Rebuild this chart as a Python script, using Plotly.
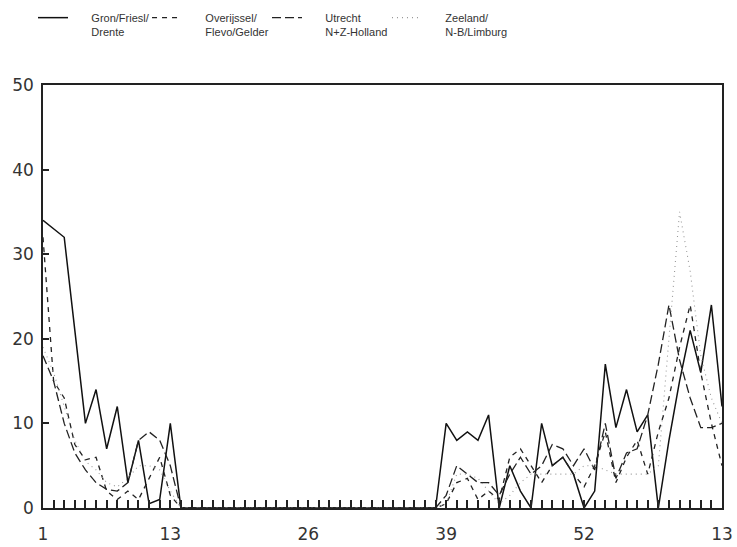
import plotly.graph_objects as go

# x positions: consecutive weeks, week 1 of year 1 ... week 13 of next year
weeks = list(range(1, 66))
tick_pos = [1, 13, 26, 39, 52, 65]
tick_text = ["1", "13", "26", "39", "52", "13"]
y_ticks = [0, 10, 20, 30, 40, 50]

gron = [34, 33, 32, 21, 10, 14, 7, 12, 3, 8, 0.5, 1, 10,
        0, 0, 0, 0, 0, 0, 0, 0, 0, 0, 0, 0, 0, 0, 0, 0, 0, 0, 0, 0, 0, 0, 0, 0, 0,
        10, 8, 9, 8, 11, 0, 5, 2, 0, 10, 5, 6, 4, 0, 2, 17, 9.5, 14, 9, 11, 0,
        8, 15, 21, 16, 24, 12]
overijssel = [32, 15, 13, 7.5, 5.7, 6, 2, 1, 2, 1, 3.5, 6, 1.5,
              0, 0, 0, 0, 0, 0, 0, 0, 0, 0, 0, 0, 0, 0, 0, 0, 0, 0, 0, 0, 0, 0, 0, 0, 0,
              0.5, 3, 3.5, 1, 2, 1, 6, 7, 5, 3, 5, 6, 4, 2.5, 5, 9, 3, 6, 8, 4, 9,
              13, 19, 24, 16, 10, 5]
utrecht = [18, 15, 10, 6.5, 4.5, 3, 2.2, 2, 3, 8, 9, 8, 5,
           0, 0, 0, 0, 0, 0, 0, 0, 0, 0, 0, 0, 0, 0, 0, 0, 0, 0, 0, 0, 0, 0, 0, 0, 0,
           1.5, 5, 4, 3, 3, 1.5, 4, 6, 4, 5, 7.5, 7, 5, 7, 4.5, 10, 3.5, 6.5, 7, 11, 17,
           24, 17.5, 13, 9.5, 9.5, 10]
zeeland = [19, 16, 12, 8, 5.5, 4.5, 3, 2.5, 3.5, 5, 5, 4.5, 2,
           0, 0, 0, 0, 0, 0, 0, 0, 0, 0, 0, 0, 0, 0, 0, 0, 0, 0, 0, 0, 0, 0, 0, 0, 0,
           0.5, 4, 4, 3.5, 2, 0.5, 1.5, 3, 4, 4, 4, 4, 4, 5, 5, 4.5, 4, 4, 4, 4, 5,
           20, 35, 28, 18, 13, 10]

pad = "&nbsp;" * 6
names = [pad + "Gron/Friesl/<br>" + pad + "Drente",
         pad + "Overijssel/<br>" + pad + "Flevo/Gelder",
         pad + "Utrecht<br>" + pad + "N+Z-Holland",
         pad + "Zeeland/<br>" + pad + "N-B/Limburg"]
series = [gron, overijssel, utrecht, zeeland]
styles = [dict(color="#111111", width=1.5, dash="solid"),
          dict(color="#222222", width=1.3, dash="5px,5px"),
          dict(color="#222222", width=1.3, dash="9px,4px"),
          dict(color="#999999", width=1.1, dash="1px,4px")]
legend_ids = ["legend", "legend2", "legend3", "legend4"]
legend_x = [-0.0147, 0.1532, 0.3299, 0.5066]

fig = go.Figure()
for n, s, st, lg in zip(names, series, styles, legend_ids):
    fig.add_trace(go.Scatter(x=weeks, y=s, mode="lines", name=n, line=st, legend=lg))

axis_font = dict(family="DejaVu Sans", size=17, color="#333333")
legend_common = dict(orientation="h", xanchor="left", y=1.1915, yanchor="top",
                     font=dict(family="Liberation Sans", size=11, color="#333333"),
                     valign="top", bgcolor="rgba(0,0,0,0)", itemclick=False)
legends = {lg: dict(x=lx, **legend_common) for lg, lx in zip(legend_ids, legend_x)}

fig.update_layout(
    width=737, height=547,
    margin=dict(l=43, r=15, t=85, b=39, pad=0, autoexpand=False),
    paper_bgcolor="white", plot_bgcolor="white",
    showlegend=True,
    xaxis=dict(range=[1, 65], tickvals=tick_pos, ticktext=tick_text,
               ticks="inside", ticklen=8, tickwidth=1.5, tickcolor="#222222",
               minor=dict(ticks="inside", ticklen=8, tickwidth=1.5, dtick=1, tick0=1,
                          tickcolor="#222222", showgrid=False),
               showline=True, linecolor="#222222", linewidth=1.5, mirror=True,
               showgrid=False, zeroline=False, tickfont=axis_font,
               ticklabelstandoff=10, automargin=False),
    yaxis=dict(range=[0, 50], tickvals=y_ticks, ticks="inside", ticklen=6,
               tickwidth=1.5, tickcolor="#222222",
               showline=True, linecolor="#222222", linewidth=1.5, mirror=True,
               showgrid=False, zeroline=False, tickfont=axis_font,
               ticklabelstandoff=4, automargin=False),
    **legends,
)
fig.write_html("out.html", config={"displayModeBar": False},
               post_script="document.body.style.margin='0';"
                           "document.body.style.overflow='hidden';")
